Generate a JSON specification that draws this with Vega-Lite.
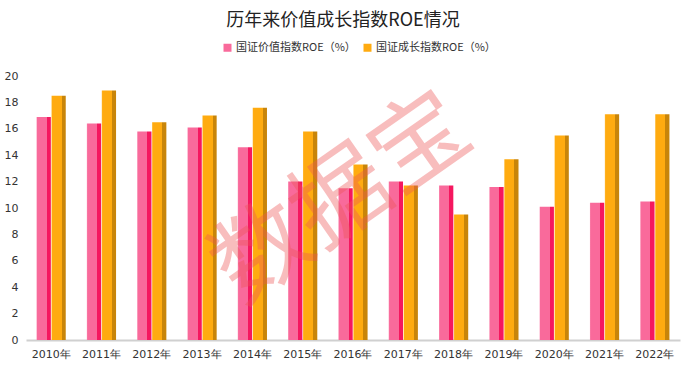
{
  "$schema": "https://vega.github.io/schema/vega-lite/v6.json",
  "width": 654,
  "height": 264,
  "autosize": {"type": "none"},
  "padding": {"left": 26, "top": 76, "right": 5, "bottom": 30},
  "background": "white",
  "title": {
    "text": "历年来价值成长指数ROE情况",
    "anchor": "middle",
    "font": "Noto Sans CJK SC",
    "fontSize": 18,
    "fontWeight": "normal",
    "color": "#222",
    "offset": 12,
    "dx": -10
  },
  "config": {
    "view": {"stroke": null},
    "axis": {"labelFont": "DejaVu Sans", "labelFontSize": 11, "labelColor": "#333", "domainColor": "#d0d0d0", "ticks": false, "grid": false, "title": null, "labelOverlap": false}
  },
  "datasets": {
    "roe": [
      {"year": "2010年", "series": "国证价值指数ROE（%）", "roe": 16.9},
      {"year": "2010年", "series": "国证成长指数ROE（%）", "roe": 18.5},
      {"year": "2011年", "series": "国证价值指数ROE（%）", "roe": 16.4},
      {"year": "2011年", "series": "国证成长指数ROE（%）", "roe": 18.9},
      {"year": "2012年", "series": "国证价值指数ROE（%）", "roe": 15.8},
      {"year": "2012年", "series": "国证成长指数ROE（%）", "roe": 16.5},
      {"year": "2013年", "series": "国证价值指数ROE（%）", "roe": 16.1},
      {"year": "2013年", "series": "国证成长指数ROE（%）", "roe": 17.0},
      {"year": "2014年", "series": "国证价值指数ROE（%）", "roe": 14.6},
      {"year": "2014年", "series": "国证成长指数ROE（%）", "roe": 17.6},
      {"year": "2015年", "series": "国证价值指数ROE（%）", "roe": 12.0},
      {"year": "2015年", "series": "国证成长指数ROE（%）", "roe": 15.8},
      {"year": "2016年", "series": "国证价值指数ROE（%）", "roe": 11.5},
      {"year": "2016年", "series": "国证成长指数ROE（%）", "roe": 13.3},
      {"year": "2017年", "series": "国证价值指数ROE（%）", "roe": 12.0},
      {"year": "2017年", "series": "国证成长指数ROE（%）", "roe": 11.7},
      {"year": "2018年", "series": "国证价值指数ROE（%）", "roe": 11.7},
      {"year": "2018年", "series": "国证成长指数ROE（%）", "roe": 9.5},
      {"year": "2019年", "series": "国证价值指数ROE（%）", "roe": 11.6},
      {"year": "2019年", "series": "国证成长指数ROE（%）", "roe": 13.7},
      {"year": "2020年", "series": "国证价值指数ROE（%）", "roe": 10.1},
      {"year": "2020年", "series": "国证成长指数ROE（%）", "roe": 15.5},
      {"year": "2021年", "series": "国证价值指数ROE（%）", "roe": 10.4},
      {"year": "2021年", "series": "国证成长指数ROE（%）", "roe": 17.1},
      {"year": "2022年", "series": "国证价值指数ROE（%）", "roe": 10.5},
      {"year": "2022年", "series": "国证成长指数ROE（%）", "roe": 17.1}
    ],
    "mark": [{"label": "数据宝", "year": "2016年", "v": 11.2}]
  },
  "layer": [
    {
      "data": {"name": "roe"},
      "mark": {"type": "bar"},
      "encoding": {
        "x": {"field": "year", "type": "nominal", "sort": null,
              "scale": {"paddingInner": 0.42, "paddingOuter": 0.21},
              "axis": {"labelAngle": 0, "labelPadding": 8, "domainWidth": 2}},
        "xOffset": {"field": "series", "type": "nominal", "sort": null, "scale": {"paddingInner": 0.04}},
        "y": {"field": "roe", "type": "quantitative",
              "scale": {"domain": [0, 20], "nice": false},
              "axis": {"values": [0,2,4,6,8,10,12,14,16,18,20], "tickCount": 11, "domain": false, "labelPadding": 8, "labelOverlap": false, "labelFlush": false}},
        "fill": {
          "condition": {"test": "datum.series === '国证价值指数ROE（%）'",
            "value": {"gradient": "linear", "x1": 0, "x2": 1, "y1": 0, "y2": 0,
              "stops": [{"offset": 0, "color": "#fb8db3"}, {"offset": 0.06, "color": "#f96a9b"}, {"offset": 0.71, "color": "#f96a9b"}, {"offset": 0.71, "color": "#f5175f"}, {"offset": 1, "color": "#f5175f"}]}},
          "value": {"gradient": "linear", "x1": 0, "x2": 1, "y1": 0, "y2": 0,
            "stops": [{"offset": 0, "color": "#ffc24d"}, {"offset": 0.06, "color": "#ffab10"}, {"offset": 0.71, "color": "#ffab10"}, {"offset": 0.71, "color": "#c8850a"}, {"offset": 1, "color": "#c8850a"}]}
        }
      }
    },
    {
      "data": {"name": "roe"},
      "mark": {"type": "bar"},
      "encoding": {
        "x": {"field": "year", "type": "nominal", "sort": null,
              "axis": {"labelAngle": 0, "labelPadding": 8, "domainWidth": 2}},
        "xOffset": {"field": "series", "type": "nominal", "sort": null},
        "y": {"datum": 0, "type": "quantitative",
              "axis": {"values": [0,2,4,6,8,10,12,14,16,18,20], "tickCount": 11, "domain": false, "labelPadding": 8, "labelOverlap": false, "labelFlush": false}},
        "color": {"field": "series", "type": "nominal", "sort": null,
                  "scale": {"domain": ["国证价值指数ROE（%）", "国证成长指数ROE（%）"], "range": ["#f96a9b", "#ffab10"]},
                  "legend": {"orient": "none", "legendX": 196, "legendY": -34, "direction": "horizontal", "title": null,
                             "symbolType": "square", "symbolSize": 64, "symbolStrokeWidth": 0, "labelOffset": 3,
                             "labelFont": "Noto Sans CJK SC", "labelFontSize": 11, "labelColor": "#333", "columnPadding": 6}}
      }
    },
    {
      "data": {"name": "mark"},
      "mark": {"type": "text", "angle": -35, "fontSize": 96, "dx": -13, "font": "Noto Sans CJK SC", "fill": "#ee5555", "opacity": 0.38, "align": "center", "baseline": "middle"},
      "encoding": {
        "x": {"field": "year", "type": "nominal", "sort": null,
              "axis": {"labelAngle": 0, "labelPadding": 8, "domainWidth": 2}},
        "y": {"field": "v", "type": "quantitative",
              "axis": {"values": [0,2,4,6,8,10,12,14,16,18,20], "tickCount": 11, "domain": false, "labelPadding": 8, "labelOverlap": false, "labelFlush": false}},
        "text": {"field": "label"}
      }
    }
  ]
}
